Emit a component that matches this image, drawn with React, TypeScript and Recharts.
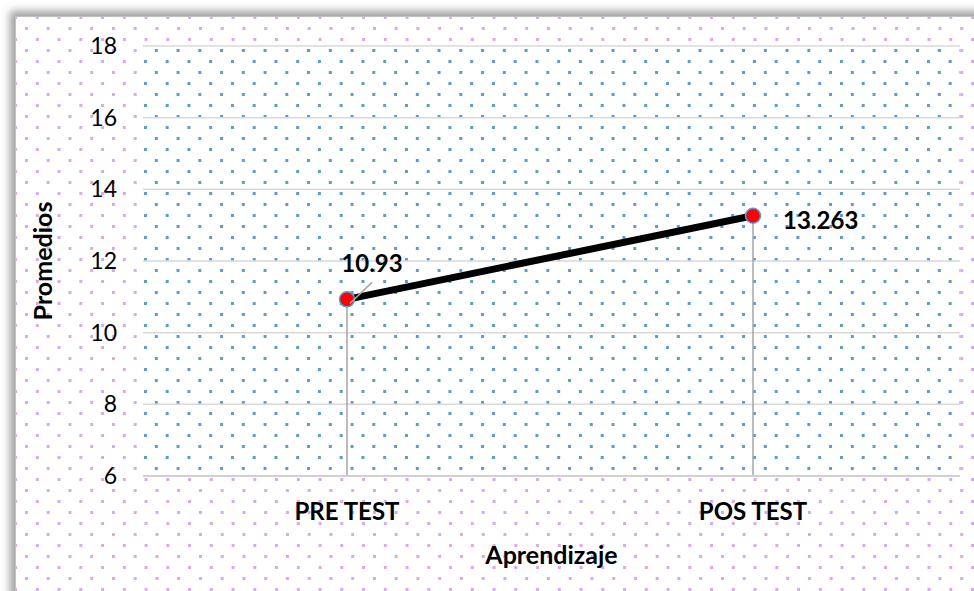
import React from 'react';
import { LineChart, Line, XAxis, YAxis, CartesianGrid, ReferenceLine, LabelList } from 'recharts';

const categories = ['PRE TEST', 'POS TEST'];
const promedios = [10.93, 13.263];
const labelTexts = ['10.93', '13.263'];
const yTicks = [6, 8, 10, 12, 14, 16, 18];

const data = categories.map((c, i) => ({ name: c, value: promedios[i], label: labelTexts[i] }));

const FONT = 'Lato, "Liberation Sans", sans-serif';

const DataLabel = (props: any) => {
  const { x, y, index, value } = props;
  const text = labelTexts[index] ?? String(value);
  if (index === 0) {
    return (
      <g>
        <line x1={x + 3} y1={y + 4} x2={x + 25} y2={y - 17} stroke="#a6a6a6" strokeWidth={1.5} />
        <text x={x + 25} y={y - 37} textAnchor="middle" dominantBaseline="central"
          style={{ fontFamily: FONT, fontWeight: 700, fontSize: 24, fill: '#000' }}>{text}</text>
      </g>
    );
  }
  return (
    <text x={x + 30} y={y + 4} textAnchor="start" dominantBaseline="central"
      style={{ fontFamily: FONT, fontWeight: 700, fontSize: 24, fill: '#000' }}>{text}</text>
  );
};

export default function App() {
  return (
    <div style={{ position: 'absolute', left: 0, top: 0, width: 974, height: 591, overflow: 'hidden', background: '#fff' }}>
      <div style={{
        position: 'absolute', left: 15, top: 16, width: 1000, height: 620,
        borderLeft: '1px solid #c0c0c0', borderTop: '1px solid #c0c0c0',
        boxShadow: '-3px -3px 8px 2px rgba(0,0,0,0.38)', background: '#fff',
      }} />
      <svg width={974} height={591} style={{ position: 'absolute', left: 0, top: 0 }}>
        <defs>
          <pattern id="purpleDots" patternUnits="userSpaceOnUse" x={21} y={23} width={21.75} height={22}>
            <rect x={4} y={4} width={3} height={3} fill="#d8a8f4" shapeRendering="crispEdges" />
            <rect x={15} y={15} width={3} height={3} fill="#d8a8f4" shapeRendering="crispEdges" />
          </pattern>
        </defs>
        <rect x={16} y={17} width={958} height={574} fill="url(#purpleDots)" />
      </svg>
      <div style={{ position: 'absolute', left: 0, top: 0 }}>
        <LineChart width={974} height={591} data={data} margin={{ top: 46, right: 14, bottom: 25, left: 43 }}>
          <defs>
            <pattern id="blueDots" patternUnits="userSpaceOnUse" x={140} y={56} width={21.75} height={22}>
              <rect x={0} y={0} width={21.75} height={22} fill="#ffffff" />
              <rect x={4} y={4} width={3} height={3} fill="#5b9bd5" shapeRendering="crispEdges" />
              <rect x={15} y={15} width={3} height={3} fill="#5b9bd5" shapeRendering="crispEdges" />
            </pattern>
          </defs>
          <CartesianGrid vertical={false} stroke="#d9d9d9" strokeWidth={1.5} fill="url(#blueDots)" fillOpacity={1} />
          <XAxis dataKey="name" height={90} tickLine={false} tickSize={0} tickMargin={27}
            padding={{ left: 204, right: 207 }}
            axisLine={{ stroke: '#d0d0d0', strokeWidth: 2 }}
            tick={{ fontFamily: FONT, fontWeight: 700, fontSize: 24, fill: '#000' }}
            label={{ value: 'Aprendizaje', position: 'insideBottom', offset: 2,
              style: { fontFamily: FONT, fontWeight: 700, fontSize: 25, fill: '#000' } }} />
          <YAxis domain={[6, 18]} ticks={yTicks} width={100} axisLine={false} tickLine={false}
            tickSize={0} tickMargin={26} interval={0}
            tick={{ fontFamily: FONT, fontSize: 23, fill: '#000' }}
            label={{ value: 'Promedios', angle: -90, position: 'insideLeft', offset: 0,
              style: { textAnchor: 'middle', fontFamily: FONT, fontWeight: 700, fontSize: 25, fill: '#000' } }} />
          {categories.map((c, i) => (
            <ReferenceLine key={c} segment={[{ x: c, y: 6 }, { x: c, y: promedios[i] }]}
              stroke="#a6a6a6" strokeWidth={1.5} />
          ))}
          <Line type="linear" dataKey="value" stroke="#000" strokeWidth={7} isAnimationActive={false}
            dot={{ r: 7.5, fill: '#ff0000', stroke: '#5b9bd5', strokeWidth: 1.5 }}>
            <LabelList dataKey="value" content={DataLabel} />
          </Line>
        </LineChart>
      </div>
    </div>
  );
}
